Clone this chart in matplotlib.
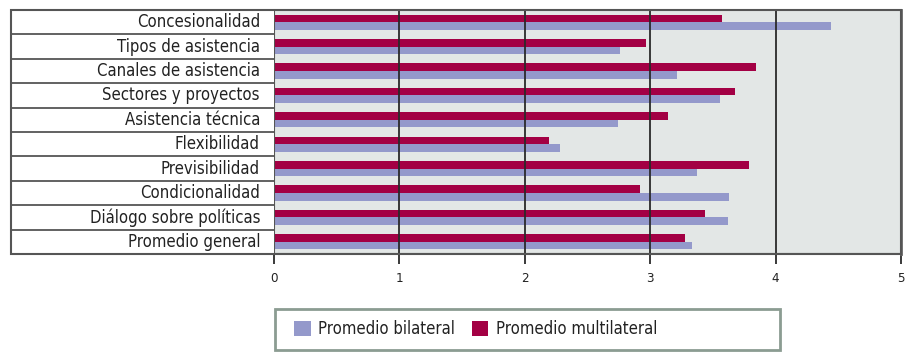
import matplotlib
matplotlib.use("Agg")
import matplotlib.pyplot as plt
from matplotlib.patches import Rectangle, Patch
from matplotlib import font_manager as fm
import numpy as np

categories = ["Concesionalidad", "Tipos de asistencia", "Canales de asistencia",
              "Sectores y proyectos", "Asistencia técnica", "Flexibilidad",
              "Previsibilidad", "Condicionalidad", "Diálogo sobre políticas",
              "Promedio general"]
bilateral = [4.44, 2.76, 3.21, 3.56, 2.74, 2.28, 3.37, 3.63, 3.62, 3.33]
multilateral = [3.57, 2.97, 3.84, 3.68, 3.14, 2.19, 3.79, 2.92, 3.44, 3.28]
xticks = [0, 1, 2, 3, 4, 5]
legend_labels = ["Promedio bilateral", "Promedio multilateral"]

plt.rcParams["font.family"] = ["DejaVu Sans"]
FP = dict(family="DejaVu Sans", stretch="condensed")

C_BIL = "#9499cb"
C_MUL = "#a30044"
C_BG = "#e3e7e6"
C_GRID = "#2a2a2a"
C_BORDER = "#555555"
C_TEXT = "#222222"

W, H = 911, 360
fig = plt.figure(figsize=(W / 100, H / 100), dpi=100)
x0, x1, y0, y1 = 274, 901, 10, 254
ax = fig.add_axes([x0 / W, (H - y1) / H, (x1 - x0) / W, (y1 - y0) / H])
ax.set_facecolor(C_BG)

n = len(categories)
y = np.arange(n)
h = 0.31
ax.barh(y - h / 2, multilateral, height=h, color=C_MUL, zorder=2)
ax.barh(y + h / 2, bilateral, height=h, color=C_BIL, zorder=2)
ax.set_ylim(n - 0.5, -0.5)
ax.set_xlim(0, 5)

for v in xticks[1:-1]:
    ax.axvline(v, color=C_GRID, lw=1.3, zorder=3)

for s in ["top", "right", "bottom", "left"]:
    ax.spines[s].set_visible(False)

ax.set_xticks(xticks)
ax.set_xticklabels([str(t) for t in xticks])
for t in ax.get_xticklabels():
    t.set_fontproperties(fm.FontProperties(size=9.5, **FP))
    t.set_color(C_TEXT)
ax.tick_params(axis="x", length=7, width=1.3, color=C_GRID, pad=6)
ax.set_yticks([])

# label region rows
left_frac = (11 - x0) / (x1 - x0)
trans = ax.get_yaxis_transform()
for b in np.arange(n + 1) - 0.5:
    ax.plot([left_frac, 0], [b, b], transform=trans, color=C_BORDER, lw=1.3,
            clip_on=False, zorder=4)
for i, c in enumerate(categories):
    ax.text(-14 / (x1 - x0), i, c, transform=trans, ha="right", va="center",
            fontproperties=fm.FontProperties(size=12, **FP), color=C_TEXT)

# outer frame
fig.add_artist(Rectangle((11 / W, (H - y1) / H), (x1 - 11) / W, (y1 - y0) / H,
                         transform=fig.transFigure, fill=False,
                         edgecolor=C_BORDER, lw=1.5, zorder=5))
ax.axvline(0, color=C_BORDER, lw=1.5, zorder=4)
ax.axvline(5, color="#666666", lw=2, zorder=4, clip_on=False)
ax.axhline(n - 0.5, color=C_BORDER, lw=1.5, zorder=4)

# legend box
fig.add_artist(Rectangle((275 / W, (H - 350) / H), (780 - 275) / W, (350 - 309) / H,
                         transform=fig.transFigure, facecolor="white",
                         edgecolor="#8b9c92", lw=2, zorder=1))
handles = [Patch(facecolor=C_BIL, edgecolor="none"), Patch(facecolor=C_MUL, edgecolor="none")]
leg = fig.legend(handles, legend_labels, loc="center left",
                 bbox_to_anchor=(294 / W, (H - 329.5) / H), ncol=2, frameon=False,
                 prop=fm.FontProperties(size=12, **FP), handlelength=1.0, handleheight=1.0,
                 handletextpad=0.45, columnspacing=1.0, borderaxespad=0, borderpad=0)
for t in leg.get_texts():
    t.set_color(C_TEXT)

fig.savefig("out.png", dpi=100)
